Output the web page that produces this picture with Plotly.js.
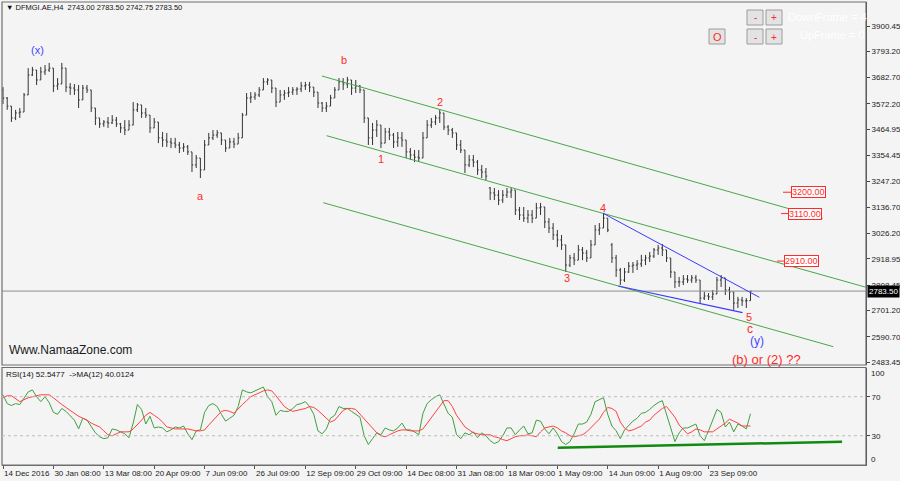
<!DOCTYPE html>
<html>
<head>
<meta charset="utf-8">
<script src="https://cdn.plot.ly/plotly-3.0.1.min.js"></script>
<style>
html,body{margin:0;padding:0;background:#f4f4f4;}
#chart{width:900px;height:481px;}
</style>
</head>
<body>
<div id="chart"></div>
<script>
// ---------- DATA ----------
const dateLabels = ["14 Dec 2016","30 Jan 08:00","13 Mar 08:00","20 Apr 09:00","7 Jun 09:00","26 Jul 09:00","12 Sep 09:00","29 Oct 09:00","14 Dec 08:00","31 Jan 08:00","18 Mar 09:00","1 May 09:00","14 Jun 09:00","1 Aug 09:00","23 Sep 09:00"];
const priceTicks = [3900.45,3793.20,3682.70,3572.20,3464.95,3354.45,3247.20,3136.70,3026.20,2918.95,2808.45,2701.20,2590.70,2483.45];
const rsiTicks = [30,70];

const barOpen = [3631,3597,3563,3513,3534,3538,3610,3694,3715,3673,
3707,3715,3723,3648,3656,3723,3643,3639,3631,3589,
3639,3631,3555,3513,3488,3496,3492,3504,3488,3471,
3462,3483,3547,3568,3534,3525,3471,3496,3429,3420,
3412,3407,3399,3386,3391,3370,3315,3344,3294,3399,
3429,3441,3450,3420,3386,3412,3403,3429,3525,3597,
3601,3610,3631,3665,3673,3639,3580,3610,3618,3622,
3631,3635,3648,3652,3643,3622,3576,3555,3563,3597,
3631,3665,3656,3673,3639,3648,3631,3513,3429,3462,
3483,3407,3454,3441,3412,3429,3420,3370,3357,3348,
3344,3429,3483,3496,3513,3534,3475,3462,3450,3399,
3378,3315,3336,3327,3294,3285,3218,3197,3188,3167,
3188,3201,3209,3125,3104,3091,3104,3091,3134,3138,
3075,3049,3020,2999,2978,2893,2923,2914,2957,2944,
2923,2978,3041,3049,3091,2978,2923,2872,2830,2864,
2889,2893,2898,2914,2923,2931,2957,2965,2957,2923,
2864,2822,2822,2834,2830,2839,2830,2754,2763,2759,
2771,2830,2839,2788,2780,2733,2746,2742,2743];

const barHigh = [3643,3601,3563,3547,3555,3618,3723,3728,3715,3728,
3736,3745,3723,3681,3745,3723,3660,3656,3652,3652,
3652,3631,3555,3513,3504,3517,3525,3517,3492,3504,
3504,3580,3576,3568,3555,3525,3513,3496,3454,3450,
3429,3429,3412,3407,3399,3370,3357,3344,3420,3450,
3462,3462,3450,3420,3429,3429,3450,3534,3618,3622,
3622,3643,3681,3681,3673,3639,3631,3631,3643,3643,
3643,3665,3665,3665,3643,3622,3580,3580,3610,3643,
3681,3681,3686,3673,3673,3652,3631,3513,3492,3504,
3483,3471,3471,3450,3454,3454,3420,3386,3378,3378,
3454,3504,3513,3525,3547,3534,3483,3471,3450,3420,
3378,3357,3357,3336,3315,3302,3222,3218,3209,3209,
3218,3218,3209,3138,3138,3125,3125,3155,3155,3138,
3091,3070,3041,3020,2978,2936,2944,2978,2969,2957,
2999,3062,3070,3113,3091,2986,2936,2881,2881,2906,
2906,2914,2936,2936,2948,2965,2978,2982,2957,2923,
2864,2843,2851,2851,2851,2851,2830,2780,2775,2788,
2843,2851,2839,2801,2780,2759,2759,2754,2783.5];

const barLow = [3572,3547,3496,3504,3513,3538,3610,3690,3652,3673,
3694,3707,3622,3631,3656,3622,3610,3610,3555,3589,
3618,3538,3483,3471,3475,3471,3488,3475,3450,3441,
3462,3483,3538,3513,3513,3450,3471,3407,3391,3391,
3386,3386,3365,3370,3357,3285,3302,3260,3294,3399,
3420,3429,3399,3370,3386,3386,3403,3429,3525,3576,
3589,3601,3631,3652,3618,3559,3580,3589,3601,3610,
3610,3622,3631,3622,3601,3555,3538,3538,3563,3597,
3631,3631,3639,3610,3618,3618,3492,3399,3399,3433,
3386,3407,3420,3386,3391,3391,3344,3336,3327,3327,
3344,3429,3471,3483,3492,3462,3441,3429,3378,3365,
3281,3306,3306,3273,3260,3252,3167,3167,3146,3155,
3176,3176,3104,3083,3075,3070,3070,3091,3104,3049,
3028,2999,2969,2957,2864,2885,2893,2914,2914,2906,
2923,2978,3020,3049,3032,2902,2843,2809,2822,2860,
2860,2872,2885,2893,2906,2923,2936,2931,2906,2839,
2796,2801,2809,2818,2818,2818,2733,2746,2746,2746,
2771,2801,2767,2746,2704,2712,2721,2712,2742.75];

const barClose = [3597,3563,3513,3534,3538,3610,3694,3715,3673,3707,
3715,3723,3648,3656,3723,3643,3639,3631,3589,3639,
3631,3555,3513,3488,3496,3492,3504,3488,3471,3462,
3483,3547,3568,3534,3525,3471,3496,3429,3420,3412,
3407,3399,3386,3391,3370,3315,3344,3294,3399,3429,
3441,3450,3420,3386,3412,3403,3429,3525,3597,3601,
3610,3631,3665,3673,3639,3580,3610,3618,3622,3631,
3635,3648,3652,3643,3622,3576,3555,3563,3597,3631,
3665,3656,3673,3639,3648,3631,3513,3429,3462,3483,
3407,3454,3441,3412,3429,3420,3370,3357,3348,3344,
3429,3483,3496,3513,3534,3475,3462,3450,3399,3378,
3315,3336,3327,3294,3285,3268,3197,3188,3167,3188,
3201,3209,3125,3104,3091,3104,3091,3134,3138,3075,
3049,3020,2999,2978,2893,2923,2914,2957,2944,2923,
2978,3041,3049,3091,3041,2923,2872,2830,2864,2889,
2893,2898,2914,2923,2931,2957,2965,2957,2923,2864,
2822,2822,2834,2830,2839,2830,2754,2763,2759,2771,
2830,2839,2788,2780,2733,2746,2742,2743,2783.5];

const rsi14 = [72,63,61,63,62,68,75,77,70,65,
70,64,54,52,58,55,51,46,37,48,
46,40,33,29,27,28,37,36,34,32,
28,43,62,57,42,50,38,39,38,34,
36,39,38,40,32,26,35,36,54,61,
63,60,52,45,48,51,60,77,75,74,
76,78,80,70,65,51,56,55,55,58,
62,63,65,60,52,35,32,37,48,51,
60,58,58,55,52,49,30,21,27,33,
31,38,36,35,38,43,36,36,34,31,
53,63,67,70,72,62,53,49,31,27,
33,31,34,28,33,30,25,22,24,30,
38,38,31,36,40,32,33,46,45,37,
32,38,32,24,21,24,32,42,42,44,
52,65,67,69,52,40,35,27,36,41,
45,48,53,54,57,61,64,66,52,39,
24,33,38,38,40,42,30,25,35,47,
57,54,39,44,34,42,40,37,52.5477];

const rsiMa12 = [69,71,71,68,65,67,69,70,71,72,
72,72,69,65,62,59,56,53,50,48,
46,43,41,39,35,31,30,32,34,34,
34,37,41,46,51,54,51,48,44,39,
38,37,37,37,37,36,35,35,36,41,
46,51,55,56,55,53,58,62,66,70,
72,74,76,77,76,71,65,60,57,55,
56,57,58,60,59,56,52,47,44,46,
51,56,58,58,57,52,47,43,37,33,
30,29,31,33,35,36,36,35,35,35,
37,43,49,55,61,66,66,60,51,45,
39,36,33,32,31,31,31,29,28,26,
25,27,29,30,30,31,30,29,34,38,
39,40,38,35,33,30,29,30,31,34,
38,43,47,54,59,58,55,44,38,35,
36,38,40,44,46,51,55,58,60,55,
49,41,36,32,34,37,36,34,34,34,
37,40,43,47,45,43,40,40,40.0124];

const lastPrice = 2783.5;
const targetLevels = ["3200.00","3110.00","2910.00"];

// ---------- LAYOUT HELPERS ----------
const W = 900, H = 481, ML = 2, MR = 34, MT = 2, MB = 16;
const PW = W - ML - MR, PH = H - MT - MB;
const px = v => (v - ML) / PW;           // pixel x -> paper x
const py = v => (H - MB - v) / PH;       // pixel y -> paper y

const idx = barClose.map((_, i) => i);
const FONT = "Liberation Sans, Arial, sans-serif";

const traces = [
  {type: 'ohlc', x: idx, open: barOpen, high: barHigh, low: barLow, close: barClose,
   xaxis: 'x', yaxis: 'y', tickwidth: 0.3, hoverinfo: 'skip',
   increasing: {line: {color: '#333333', width: 1}},
   decreasing: {line: {color: '#333333', width: 1}}},
  {type: 'scatter', mode: 'lines', x: idx, y: rsi14, xaxis: 'x', yaxis: 'y2',
   line: {color: '#3f9f3f', width: 1}, hoverinfo: 'skip'},
  {type: 'scatter', mode: 'lines', x: idx, y: rsiMa12, xaxis: 'x', yaxis: 'y2',
   line: {color: '#ff4040', width: 1}, hoverinfo: 'skip'}
];

const red = '#ff2b2b', blue = '#4646ff';
function lbl(text, x, y, color, size, anchor) {
  return {text: text, xref: 'paper', yref: 'paper', x: px(x), y: py(y), showarrow: false,
          xanchor: anchor || 'center', yanchor: 'middle',
          font: {family: FONT, size: size, color: color}};
}

const annotations = [
  lbl('\u25BC\u00a0DFMGI.AE,H4\u00a0\u00a02743.00 2783.50 2742.75 2783.50', 4, 8, '#111', 7.5, 'left'),
  lbl('(x)', 37, 50, blue, 11),
  lbl('a', 200, 196, red, 11),
  lbl('b', 344, 60, red, 11),
  lbl('1', 381, 159, red, 11),
  lbl('2', 440, 102, red, 11),
  lbl('3', 567, 278, red, 11),
  lbl('4', 603, 208, red, 11),
  lbl('5', 749, 317, red, 11),
  lbl('c', 750, 329, red, 12),
  lbl('(y)', 757, 341, blue, 12),
  lbl('(b) or (2) ??', 766, 359, red, 13),
  lbl('Www.NamaaZone.com', 7, 350, '#1a1a1a', 12, 'left'),
  lbl('RSI(14) 52.5477\u00a0\u00a0->MA(12) 40.0124', 4, 374, '#111', 8, 'left'),
  lbl('DownFrame = 4', 786, 17, '#ffffff', 11, 'left'),
  lbl('UpFrame = 0', 798, 35, '#ffffff', 11, 'left'),
  lbl('-', 755, 18, red, 10), lbl('+', 774, 18, red, 10),
  lbl('-', 755, 37, red, 10), lbl('+', 774, 37, red, 10),
  lbl('O', 717, 37, red, 11),
  lbl('100', 869, 373, '#222', 8, 'left'),
  lbl('0', 869, 459, '#222', 8, 'left'),
  {text: lastPrice.toFixed(2), xref: 'paper', yref: 'y', x: px(867), y: lastPrice, showarrow: false,
   xanchor: 'left', yanchor: 'middle', bgcolor: '#000000', borderpad: 1,
   font: {family: FONT, size: 8, color: '#ffffff'}}
];
// target price boxes
const boxX = [808, 805, 801];
targetLevels.forEach((t, k) => {
  annotations.push({text: t, xref: 'paper', yref: 'y', x: px(boxX[k]), y: parseFloat(t), showarrow: false,
    xanchor: 'center', yanchor: 'middle', bgcolor: '#ffffff', bordercolor: red, borderwidth: 1, borderpad: 0,
    font: {family: FONT, size: 9, color: red}});
});

const green = '#49a749';
const shapes = [
  // pane frames
  {type: 'rect', xref: 'paper', yref: 'paper', x0: 0, x1: 1, y0: py(365), y1: 1, line: {color: '#6e6e6e', width: 1.2}},
  {type: 'rect', xref: 'paper', yref: 'paper', x0: 0, x1: 1, y0: 0, y1: py(367.5), line: {color: '#6e6e6e', width: 1.2}},
  // last price line
  {type: 'line', xref: 'paper', yref: 'y', x0: 0, x1: 1, y0: lastPrice, y1: lastPrice, line: {color: '#8c8c8c', width: 1}},
  // channel
  {type: 'line', xref: 'x', yref: 'y', x0: 75.95, y0: 3689.8, x1: 195.2, y1: 3090.2, line: {color: green, width: 1}},
  {type: 'line', xref: 'x', yref: 'y', x0: 77.07, y0: 3438.2, x1: 205.5, y1: 2799.5, line: {color: green, width: 1}},
  {type: 'line', xref: 'x', yref: 'y', x0: 76.26, y0: 3156.0, x1: 197.7, y1: 2549.2, line: {color: green, width: 1}},
  // wedge
  {type: 'line', xref: 'x', yref: 'y', x0: 142.9, y0: 3111.3, x1: 180.1, y1: 2757.3, line: {color: '#3a3aff', width: 1}},
  {type: 'line', xref: 'x', yref: 'y', x0: 146.5, y0: 2805, x1: 176.1, y1: 2692.4, line: {color: '#3a3aff', width: 1.2}},
  // target lead lines
  {type: 'line', xref: 'paper', yref: 'y', x0: px(783), x1: px(792), y0: 3200, y1: 3200, line: {color: red, width: 1}},
  {type: 'line', xref: 'paper', yref: 'y', x0: px(781), x1: px(789), y0: 3110, y1: 3110, line: {color: red, width: 1}},
  {type: 'line', xref: 'paper', yref: 'y', x0: px(777), x1: px(785), y0: 2910, y1: 2910, line: {color: red, width: 1}},
  // RSI levels
  {type: 'line', xref: 'paper', yref: 'y2', x0: 0, x1: 1, y0: 70, y1: 70, line: {color: '#bcbcbc', width: 1, dash: 'dot'}},
  {type: 'line', xref: 'paper', yref: 'y2', x0: 0, x1: 1, y0: 30, y1: 30, line: {color: '#bcbcbc', width: 1, dash: 'dot'}},
  // RSI support line
  {type: 'line', xref: 'x', yref: 'y2', x0: 132.1, y0: 17.7, x1: 199.8, y1: 23.9, line: {color: '#118a11', width: 2.5}},
];
// buttons
[[747,763,10,25],[766,782,10,25],[747,763,29,44],[766,782,29,44],[709,725,29,44]].forEach(b => {
  shapes.push({type: 'rect', xref: 'paper', yref: 'paper', x0: px(b[0]), x1: px(b[1]), y0: py(b[3]), y1: py(b[2]),
    fillcolor: '#e3e3e3', line: {color: '#9c9c9c', width: 1}, layer: 'below'});
});

const axisFont = {family: FONT, size: 8, color: '#222'};
const layout = {
  width: W, height: H,
  margin: {l: ML, r: MR, t: MT, b: MB, pad: 0},
  paper_bgcolor: '#f4f4f4', plot_bgcolor: '#f4f4f4',
  showlegend: false,
  xaxis: {range: [-0.24, 205.5], anchor: 'y2', showgrid: false, zeroline: false,
    showline: true, linecolor: '#6e6e6e', ticks: 'outside', ticklen: 3, tickcolor: '#555',
    tickvals: dateLabels.map((_, k) => k * 12), ticktext: dateLabels, tickangle: 0,
    ticklabelposition: 'outside right', tickfont: axisFont,
    rangeslider: {visible: false}, fixedrange: true},
  yaxis: {domain: [py(365), 1], range: [2472, 4001.6], side: 'right', anchor: 'x',
    showgrid: false, zeroline: false, showline: true, linecolor: '#444',
    ticks: 'outside', ticklen: 3, tickcolor: '#444',
    tickvals: priceTicks, ticktext: priceTicks.map(v => v.toFixed(2)), tickfont: axisFont, fixedrange: true},
  yaxis2: {domain: [0, py(367.5)], range: [0, 100], side: 'right', anchor: 'x',
    showgrid: false, zeroline: false, showline: true, linecolor: '#444',
    ticks: 'outside', ticklen: 3, tickcolor: '#444',
    tickvals: rsiTicks, ticktext: rsiTicks.map(String), tickfont: axisFont, fixedrange: true},
  shapes: shapes,
  annotations: annotations
};

Plotly.newPlot('chart', traces, layout, {staticPlot: true, displayModeBar: false});
</script>
</body>
</html>
